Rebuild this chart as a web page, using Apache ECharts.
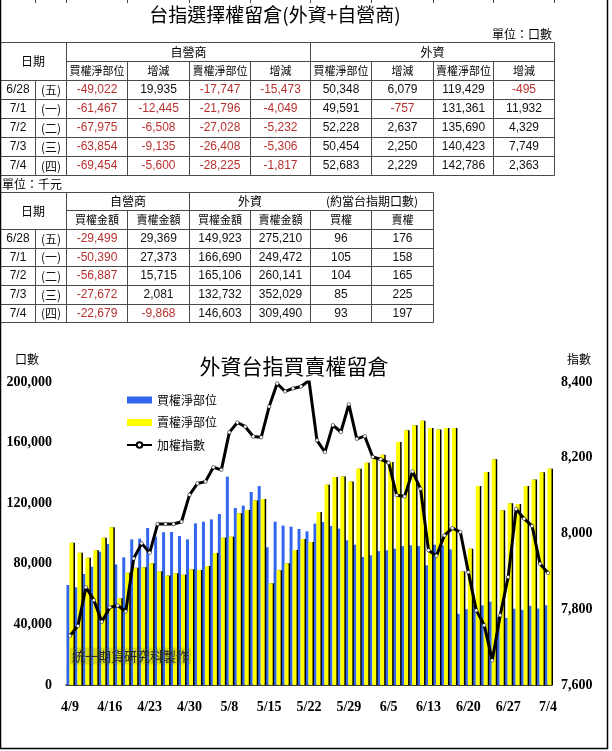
<!DOCTYPE html>
<html><head><meta charset="utf-8">
<script src="https://cdn.jsdelivr.net/npm/echarts@6/dist/echarts.min.js"></script>
<style>html,body{margin:0;padding:0;background:#fff;}#c{width:612px;height:751px;}</style>
</head><body><div id="c"></div>
<script>
// ---------- chart data ----------
const dates = ['4/9','4/10','4/11','4/12','4/15','4/16','4/17','4/18','4/19','4/22','4/23','4/24','4/25','4/26','4/29','4/30','5/2','5/3','5/6','5/7','5/8','5/9','5/10','5/13','5/14','5/15','5/16','5/17','5/20','5/21','5/22','5/23','5/24','5/27','5/28','5/29','5/30','5/31','6/3','6/4','6/5','6/6','6/7','6/10','6/11','6/13','6/14','6/17','6/18','6/19','6/20','6/21','6/24','6/25','6/26','6/27','6/28','7/1','7/2','7/3','7/4'];
const buyNet = [66000,64500,73300,78100,88000,93100,79600,84300,96100,96600,103600,97900,100800,101000,98300,96100,106700,107800,109300,112900,137500,116800,118400,127400,131300,90900,107800,105200,104500,103000,
  101400,106500,107600,105000,103200,95500,92600,84500,85600,88400,88900,90000,91700,92200,91700,79000,92600,92200,89500,
  47000,50000,53000,52600,55000,45000,44269,50348,49591,52228,50454,52683];
const sellNet = [93900,87300,84000,88900,97200,104100,57200,74100,77400,77700,80300,75000,72200,73700,72800,76300,75900,78500,87100,97200,97900,113300,115500,121700,122800,67100,75700,80300,89100,96400,
  94400,114200,132200,137300,137700,134400,142800,146700,150500,152000,147200,160400,168100,171400,174500,169600,168700,169600,169600,
  75000,90000,131300,140600,149000,115300,119924,119429,131361,135690,140423,142786];
const taiex = [7730,7756,7858,7824,7767,7805,7810,7794,7934,7974,7949,8025,8025,8025,8031,8102,8132,8137,8175,8168,8267,8293,8282,8256,8254,8335,8396,8375,8383,8388,8404,
  8246,8215,8286,8268,8341,8250,8257,8202,8196,8187,8101,8098,8164,8118,7956,7941,7995,8014,
  8004,7898,7797,7758,7665,7784,7885,8065,8039,8020,7920,7896];
const leftTicks = [0, 200000, 40000];
const rightTicks = [7600, 8400, 200];

// ---------- table data ----------
const tblDates = ['6/28','7/1','7/2','7/3','7/4'];
const tblWeekdays = ['(五)','(一)','(二)','(三)','(四)'];
const propCallNet = [-49022,-61467,-67975,-63854,-69454];
const propCallChg = [19935,-12445,-6508,-9135,-5600];
const propPutNet = [-17747,-21796,-27028,-26408,-28225];
const propPutChg = [-15473,-4049,-5232,-5306,-1817];
const fgnCallNet = [50348,49591,52228,50454,52683];
const fgnCallChg = [6079,-757,2637,2250,2229];
const fgnPutNet = [119429,131361,135690,140423,142786];
const fgnPutChg = [-495,11932,4329,7749,2363];
const propCallAmt = [-29499,-50390,-56887,-27672,-22679];
const propPutAmt = [29369,27373,15715,2081,-9868];
const fgnCallAmt = [149923,166690,165106,132732,146603];
const fgnPutAmt = [275210,249472,260141,352029,309490];
const equivCall = [96,105,104,85,93];
const equivPut = [176,158,165,225,197];

// ---------- drawing helpers ----------
const CJK = '"Noto Sans CJK TC", "Noto Sans CJK SC", sans-serif';
const NUMF = '"Liberation Sans Narrow", "Liberation Sans", sans-serif';
const LINE = '#4a4a4a';
const RED = '#b8312f';
const els = [];
function ln(x1,y1,x2,y2,c,w){ els.push({type:'line',silent:true,shape:{x1,y1,x2,y2},style:{stroke:c||LINE,lineWidth:w||1}}); }
function tx(x,y,t,font,fill,align){
  els.push({type:'text',silent:true,x:x,y:y,style:{text:t,font:font,fill:fill||'#000',
    align:align||'center',verticalAlign:'middle',textAlign:align||'center',textVerticalAlign:'middle'}});
}
const fmt = v => v.toLocaleString('en-US');
const numCell = (x,y,v) => tx(x,y,fmt(v),'12px '+NUMF, v<0?RED:'#111');

// ---------- titles ----------
tx(275,15,'台指選擇權留倉(外資+自營商)','19px '+CJK,'#000');
tx(552,34,'單位：口數','12px '+CJK,'#000','right');

// ---------- table 1 ----------
const C1 = [0.5,35.5,66.5,127.5,189.5,250.5,310.5,371.5,433.5,493.5,554.5];
const R1 = [42.5,61.5,80.5,99.5,118.5,137.5,156.5,175.5];
ln(C1[0],R1[0],C1[10],R1[0]);
ln(C1[2],R1[1],C1[10],R1[1]);
for(let i=2;i<R1.length;i++) ln(C1[0],R1[i],C1[10],R1[i]);
[0,2,6,10].forEach(k=>ln(C1[k],R1[0],C1[k],R1[7]));
[3,4,5,7,8,9].forEach(k=>ln(C1[k],R1[1],C1[k],R1[7]));
ln(C1[1],R1[2],C1[1],R1[7]);
tx(33,61,'日期','12px '+CJK);
tx((C1[2]+C1[6])/2,52,'自營商','12px '+CJK);
tx((C1[6]+C1[10])/2,52,'外資','12px '+CJK);
const h1 = ['買權淨部位','增減','賣權淨部位','增減','買權淨部位','增減','賣權淨部位','增減'];
h1.forEach((h,k)=>tx((C1[k+2]+C1[k+3])/2,71,h,'11px '+CJK));
const t1cols = [propCallNet,propCallChg,propPutNet,propPutChg,fgnCallNet,fgnCallChg,fgnPutNet,fgnPutChg];
for(let r=0;r<tblDates.length;r++){
  const y=(R1[r+2]+R1[r+3])/2;
  tx((C1[0]+C1[1])/2,y,tblDates[r],'12px '+NUMF,'#111');
  tx((C1[1]+C1[2])/2,y,tblWeekdays[r],'12px '+CJK,'#111');
  t1cols.forEach((col,k)=>numCell((C1[k+2]+C1[k+3])/2,y,col[r]));
}

// ---------- table 2 ----------
tx(2,184,'單位：千元','12px '+CJK,'#000','left');
const C2 = [0.5,35.5,66.5,127.5,189.5,250.5,310.5,371.5,433.5];
const R2 = [192.5,210.5,229.5,248.5,266.5,285.5,304.5,322.5];
ln(C2[0],R2[0],C2[8],R2[0]);
ln(C2[2],R2[1],C2[8],R2[1]);
for(let i=2;i<R2.length;i++) ln(C2[0],R2[i],C2[8],R2[i]);
[0,2,4,8].forEach(k=>ln(C2[k],R2[0],C2[k],R2[7]));
[3,5,6,7].forEach(k=>ln(C2[k],R2[1],C2[k],R2[7]));
ln(C2[1],R2[2],C2[1],R2[7]);
tx(33,211,'日期','12px '+CJK);
tx((C2[2]+C2[4])/2,201,'自營商','12px '+CJK);
tx((C2[4]+C2[6])/2,201,'外資','12px '+CJK);
tx((C2[6]+C2[8])/2,201,'(約當台指期口數)','12px '+CJK);
const h2 = ['買權金額','賣權金額','買權金額','賣權金額','買權','賣權'];
h2.forEach((h,k)=>tx((C2[k+2]+C2[k+3])/2,220,h,'11px '+CJK));
const t2cols = [propCallAmt,propPutAmt,fgnCallAmt,fgnPutAmt,equivCall,equivPut];
for(let r=0;r<tblDates.length;r++){
  const y=(R2[r+2]+R2[r+3])/2;
  tx((C2[0]+C2[1])/2,y,tblDates[r],'12px '+NUMF,'#111');
  tx((C2[1]+C2[2])/2,y,tblWeekdays[r],'12px '+CJK,'#111');
  t2cols.forEach((col,k)=>numCell((C2[k+2]+C2[k+3])/2,y,col[r]));
}

// ---------- frame ----------
ln(0.5,0,0.5,749,'#000',1.5);
ln(607.5,0,607.5,749,'#000',1.5);
ln(0,748.5,608,748.5,'#000',1.5);
C1.slice(1).forEach(x=>ln(x,0,x,3));

// ---------- chart annotations ----------
tx(294,366,'外資台指買賣權留倉','21px '+CJK,'#000');
tx(27,359,'口數','12px '+CJK,'#000');
tx(579,359,'指數','12px '+CJK,'#000');
els.push({type:'text',silent:true,z:50,x:70,y:656,style:{text:'統一期貨研究科製作',font:'13px '+CJK,fill:'#2a2a2a',
  align:'left',verticalAlign:'middle',textAlign:'left',textVerticalAlign:'middle',
  backgroundColor:'rgba(80,95,40,0.22)',padding:[2,2]}});

const chart = echarts.init(document.getElementById('c'),null,{renderer:'canvas'});
chart.setOption({
  animation:false,
  backgroundColor:'#fff',
  grid:{left:66,right:60,top:382,bottom:66,containLabel:false},
  legend:{orient:'vertical',left:121,top:389,itemWidth:25,itemHeight:7,itemGap:10.5,
    textStyle:{fontFamily:CJK,fontSize:12,color:'#000'},
    data:[{name:'買權淨部位',icon:'rect'},{name:'賣權淨部位',icon:'rect'},{name:'加權指數'}]},
  xAxis:{type:'category',data:dates,boundaryGap:true,
    axisLine:{lineStyle:{color:'#000',width:1.5}},axisTick:{show:false},
    axisLabel:{interval:4,margin:15,color:'#000',fontFamily:'"Liberation Serif", serif',fontWeight:'bold',fontSize:14}},
  yAxis:[
    {type:'value',min:leftTicks[0],max:leftTicks[1],interval:leftTicks[2],
     axisLine:{show:false},axisTick:{show:false},splitLine:{show:false},
     axisLabel:{margin:14,color:'#000',fontFamily:'"Liberation Serif", serif',fontWeight:'bold',fontSize:14,formatter:v=>fmt(v)}},
    {type:'value',position:'right',min:rightTicks[0],max:rightTicks[1],interval:rightTicks[2],
     axisLine:{show:false},axisTick:{show:false},splitLine:{show:false},
     axisLabel:{margin:9,color:'#000',fontFamily:'"Liberation Serif", serif',fontWeight:'bold',fontSize:14,formatter:v=>fmt(v)}}
  ],
  series:[
    {name:'買權淨部位',type:'bar',data:buyNet,barWidth:3,barGap:'0%',
     itemStyle:{color:'#3366f0'}},
    {name:'賣權淨部位',type:'bar',data:sellNet,barWidth:4,barGap:'0%',
     itemStyle:{color:'#ffff00',shadowColor:'#000',shadowOffsetX:1.5,shadowOffsetY:0,shadowBlur:0}},
    {name:'加權指數',type:'line',yAxisIndex:1,data:taiex,z:5,
     symbol:'circle',symbolSize:3.5,showAllSymbol:true,
     lineStyle:{color:'#000',width:3},
     itemStyle:{color:'#fff',borderColor:'#000',borderWidth:0.5}}
  ],
  graphic:{elements:els}
});
</script></body></html>
